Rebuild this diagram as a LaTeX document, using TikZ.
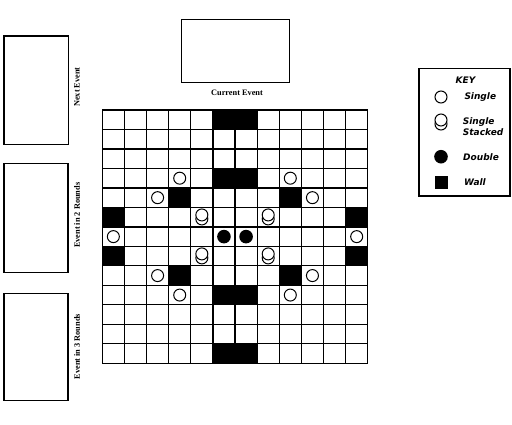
\documentclass[tikz,border=0pt]{standalone}
\usepackage{fontspec}
\setmainfont{Liberation Serif}
\newfontfamily\keyfont{DejaVu Sans}
\begin{document}
\begin{tikzpicture}[x=1pt,y=-1pt,
  evbox/.style={draw,line width=1.3pt,inner sep=0pt,fill=white},
  evlabel/.style={font=\fontsize{8.3}{9}\selectfont\bfseries,inner sep=0pt},
  keytext/.style={font=\keyfont\fontsize{9}{11}\selectfont\bfseries\itshape,inner sep=0pt,anchor=west,align=left},
  gridline/.style={line width=1.25pt},
  piece/.style={draw,line width=1pt,fill=white},
  dbl/.style={fill=black}]
\useasboundingbox (0,0) rectangle (512,424);
\fill[white] (0,0) rectangle (512,424);
% event boxes
\node[evbox,minimum width=107.6pt,minimum height=63.4pt] (cur) at (235.5,51) {};
\node[evlabel] (curlab) at (237,92.5) {Current Event};
\node[evbox,minimum width=64.3pt,minimum height=108.3pt] (next) at (36.2,90.2) {};
\node[evlabel,rotate=90] (nextlab) at (77,87) {Next Event};
\node[evbox,minimum width=64pt,minimum height=109pt] (ev2) at (36,217.8) {};
\node[evlabel,rotate=90] (ev2lab) at (77,215.3) {Event in 2 Rounds};
\node[evbox,minimum width=64pt,minimum height=107.4pt] (ev3) at (36,347) {};
\node[evlabel,rotate=90] (ev3lab) at (77,346.7) {Event in 3 Rounds};
% key
\node[evbox,minimum width=91pt,minimum height=127.7pt] (key) at (464.5,132.2) {};
\node[keytext,anchor=center] (keyt) at (465.5,80) {KEY};
\draw[piece] (441,97) circle (6pt);
\node[keytext] (ks) at (464.3,97) {Single};
\draw[piece] (441,124) circle (6pt);
\draw[piece] (441,120) circle (6pt);
\node[keytext] (kss) at (462.7,126.5) {Single\\Stacked};
\fill (441,156.7) circle (6.8pt);
\node[keytext] (kd) at (463,157) {Double};
\fill (434.5,175.5) rectangle (447.5,188.5);
\node[keytext] (kw) at (464,182) {Wall};
% grid
\def\gx{102.3}\def\gy{110}\def\cw{22.12}\def\ch{19.48}
\foreach \c/\r in {6/1,7/1,6/4,7/4,4/5,9/5,1/6,12/6,1/8,12/8,4/9,9/9,6/10,7/10,6/13,7/13}
  \fill ({\gx+(\c-1)*\cw},{\gy+(\r-1)*\ch}) rectangle ++(\cw,\ch);
\foreach \i in {0,...,12}
  \draw[gridline] ({\gx+\i*\cw},\gy) -- ({\gx+\i*\cw},{\gy+13*\ch});
\foreach \j in {0,...,13}
  \draw[gridline] (\gx,{\gy+\j*\ch}) -- ({\gx+12*\cw},{\gy+\j*\ch});
% single pieces
\foreach \c/\r in {4/4,9/4,3/5,10/5,1/7,12/7,3/9,10/9,4/10,9/10}
  \draw[piece] ({\gx+(\c-0.5)*\cw},{\gy+(\r-0.5)*\ch}) circle (6pt);
% stacked pieces
\foreach \c/\r in {5/6,8/6,5/8,8/8}{
  \draw[piece] ({\gx+(\c-0.5)*\cw},{\gy+(\r-0.5)*\ch+1.8}) circle (6pt);
  \draw[piece] ({\gx+(\c-0.5)*\cw},{\gy+(\r-0.5)*\ch-2.2}) circle (6pt);
}
% doubles
\foreach \c/\r in {6/7,7/7}
  \fill ({\gx+(\c-0.5)*\cw},{\gy+(\r-0.5)*\ch}) circle (6.8pt);
\end{tikzpicture}
\end{document}
